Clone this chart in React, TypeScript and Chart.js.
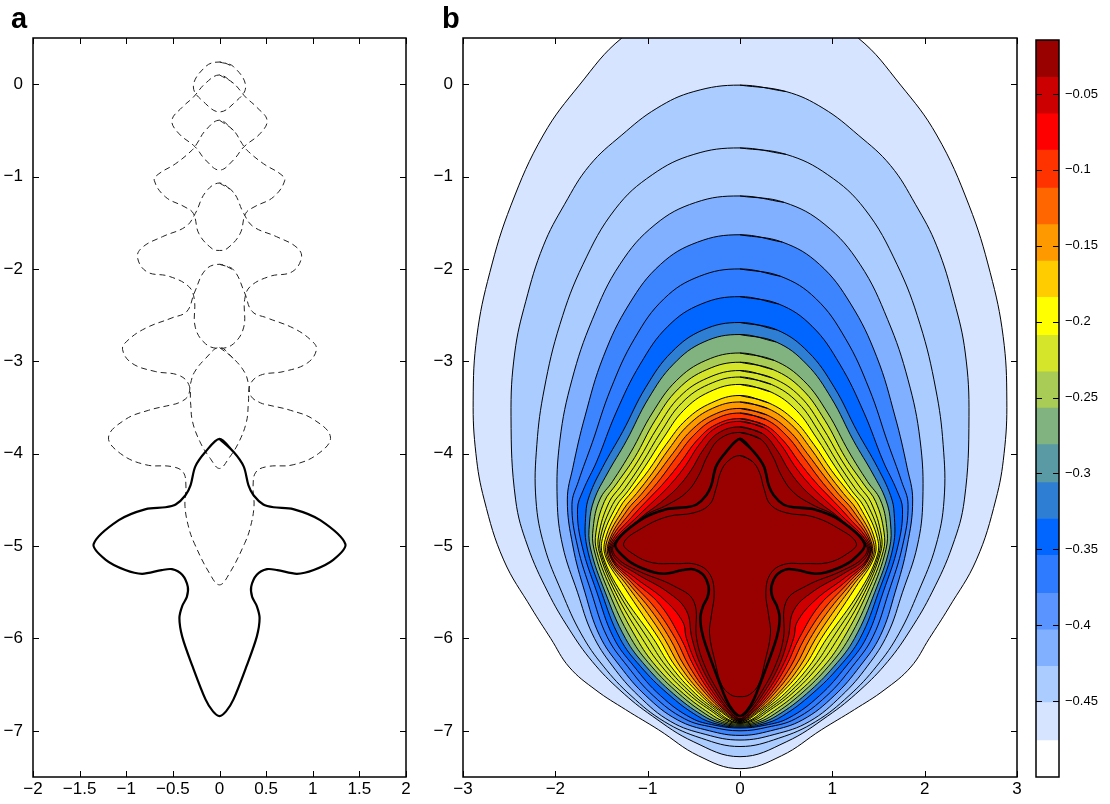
import React, { useEffect, useRef } from "react";
import { Chart, registerables } from "chart.js";

Chart.register(...registerables);

type Pt = [number, number];

const FONT = '"Liberation Sans", Arial, Helvetica, sans-serif';

// ---------------- axis ticks ----------------
const panelAXTicks = [-2, -1.5, -1, -0.5, 0, 0.5, 1, 1.5, 2];
const panelBXTicks = [-3, -2, -1, 0, 1, 2, 3];
const depthTicks = [-7, -6, -5, -4, -3, -2, -1, 0];
const colorbarTicks = [-0.45, -0.4, -0.35, -0.3, -0.25, -0.2, -0.15, -0.1, -0.05];

// ---------------- panel a : outlines (right half, top -> bottom, mirrored about x = 0) ----------------
const crossHalf: Pt[] = [[0,-3.84],[0.15,-3.98],[0.26,-4.14],[0.31,-4.34],[0.365,-4.45],[0.47,-4.55],[0.58,-4.58],[0.79,-4.6],[1.08,-4.72],[1.35,-4.98],[1.22,-5.15],[1.01,-5.26],[0.83,-5.3],[0.62,-5.26],[0.51,-5.25],[0.4,-5.31],[0.34,-5.44],[0.35,-5.55],[0.4,-5.65],[0.43,-5.78],[0.4,-5.98],[0.29,-6.3],[0.15,-6.66],[0.07,-6.79],[0,-6.84]];
const shapeA0: Pt[] = [[0,0.24],[0.15,0.19],[0.28,-0.03],[0.15,-0.21],[0,-0.3]];
const shapeA: Pt[] = [[0,0.1],[0.15,0.01],[0.28,-0.14],[0.4,-0.25],[0.51,-0.39],[0.44,-0.53],[0.26,-0.68],[0.15,-0.82],[0,-0.93]];
const shapeB: Pt[] = [[0,-0.39],[0.15,-0.5],[0.24,-0.64],[0.29,-0.71],[0.47,-0.86],[0.65,-0.97],[0.7,-1.04],[0.58,-1.22],[0.37,-1.33],[0.28,-1.4],[0.22,-1.62],[0.08,-1.78],[0,-1.8]];
const shapeC: Pt[] = [[0,-1.07],[0.15,-1.17],[0.26,-1.4],[0.36,-1.54],[0.61,-1.65],[0.82,-1.76],[0.88,-1.87],[0.78,-2.03],[0.54,-2.08],[0.33,-2.19],[0.27,-2.33],[0.26,-2.63],[0.15,-2.81],[0,-2.86]];
const shapeD: Pt[] = [[0,-1.95],[0.15,-2.01],[0.27,-2.26],[0.35,-2.46],[0.51,-2.53],[0.79,-2.64],[0.98,-2.77],[1.04,-2.87],[0.94,-3.02],[0.69,-3.11],[0.44,-3.15],[0.33,-3.25],[0.31,-3.45],[0.29,-3.65],[0.21,-3.87],[0.1,-4.05],[0,-4.16]];
const shapeE: Pt[] = [[0,-2.85],[0.15,-2.97],[0.27,-3.12],[0.31,-3.24],[0.34,-3.38],[0.44,-3.45],[0.51,-3.47],[0.76,-3.53],[1.01,-3.63],[1.19,-3.82],[1.06,-4.0],[0.79,-4.12],[0.51,-4.14],[0.39,-4.2],[0.36,-4.35],[0.37,-4.57],[0.33,-4.8],[0.27,-4.97],[0.11,-5.29],[0,-5.42]];
const dashedShapes = [shapeA0, shapeA, shapeB, shapeC, shapeD, shapeE];

// ---------------- panel b : contour lines (right half), outermost first ----------------
const c01: Pt[] = [[0,0.95],[0.7,0.84],[1.28,0.5],[1.74,-0.01],[2.13,-0.55],[2.48,-1.31],[2.71,-2.04],[2.85,-2.73],[2.89,-3.42],[2.86,-4.0],[2.77,-4.5],[2.56,-5.15],[2.26,-5.67],[2.05,-6.0],[1.85,-6.31],[1.56,-6.56],[1.24,-6.77],[0.88,-6.99],[0.45,-7.27],[0,-7.41]];
const c02: Pt[] = [[0,-0.01],[0.5,-0.08],[0.9,-0.26],[1.28,-0.55],[1.63,-0.88],[1.9,-1.3],[2.13,-1.75],[2.32,-2.35],[2.44,-2.91],[2.48,-3.6],[2.43,-4.5],[2.3,-5.0],[2.08,-5.5],[1.85,-5.9],[1.6,-6.25],[1.3,-6.56],[0.95,-6.84],[0.5,-7.12],[0,-7.28]];
const c03: Pt[] = [[0,-0.69],[0.5,-0.76],[0.95,-0.98],[1.35,-1.35],[1.7,-1.95],[1.95,-2.6],[2.12,-3.3],[2.2,-3.9],[2.21,-4.5],[2.12,-5.0],[1.93,-5.5],[1.72,-5.95],[1.48,-6.3],[1.18,-6.62],[0.82,-6.9],[0.42,-7.08],[0,-7.17]];
const c04: Pt[] = [[0,-1.21],[0.48,-1.28],[0.92,-1.52],[1.3,-1.95],[1.6,-2.55],[1.82,-3.2],[1.95,-3.85],[1.98,-4.5],[1.92,-5.0],[1.76,-5.5],[1.6,-5.95],[1.38,-6.3],[1.1,-6.62],[0.75,-6.9],[0.37,-7.04],[0,-7.1]];
const c05: Pt[] = [[0,-1.63],[0.46,-1.71],[0.86,-1.95],[1.2,-2.38],[1.48,-2.95],[1.68,-3.6],[1.81,-4.15],[1.87,-4.5],[1.81,-5.0],[1.68,-5.5],[1.52,-5.97],[1.3,-6.3],[1.02,-6.62],[0.68,-6.88],[0.33,-7.0],[0,-7.05]];
const c06: Pt[] = [[0,-2.0],[0.44,-2.08],[0.82,-2.32],[1.14,-2.75],[1.4,-3.3],[1.6,-3.88],[1.75,-4.3],[1.82,-4.55],[1.76,-5.0],[1.61,-5.5],[1.44,-5.98],[1.22,-6.3],[0.94,-6.62],[0.6,-6.87],[0.3,-6.96],[0,-7.0]];
const c07: Pt[] = [[0,-2.3],[0.42,-2.38],[0.78,-2.62],[1.08,-3.03],[1.34,-3.55],[1.55,-4.08],[1.7,-4.4],[1.76,-4.6],[1.71,-5.0],[1.55,-5.5],[1.37,-5.99],[1.15,-6.3],[0.86,-6.62],[0.53,-6.86],[0.27,-6.94],[0,-6.97]];
const c08: Pt[] = [[0,-2.58],[0.4,-2.66],[0.74,-2.9],[1.02,-3.28],[1.27,-3.76],[1.49,-4.15],[1.63,-4.45],[1.67,-4.65],[1.66,-5.0],[1.5,-5.5],[1.3,-6.0],[1.08,-6.3],[0.78,-6.6],[0.46,-6.84],[0.24,-6.93],[0,-6.96]];
const c09: Pt[] = [[0,-2.71],[0.39,-2.79],[0.72,-3.03],[0.99,-3.4],[1.23,-3.86],[1.44,-4.22],[1.58,-4.5],[1.63,-4.75],[1.62,-5.02],[1.46,-5.5],[1.24,-6.0],[1.02,-6.3],[0.72,-6.6],[0.41,-6.83],[0.21,-6.92],[0,-6.95]];
const c10: Pt[] = [[0,-2.91],[0.37,-2.99],[0.69,-3.21],[0.95,-3.56],[1.18,-3.98],[1.38,-4.3],[1.52,-4.5],[1.59,-4.8],[1.58,-5.04],[1.42,-5.5],[1.18,-6.0],[0.96,-6.3],[0.66,-6.6],[0.37,-6.82],[0.19,-6.91],[0,-6.94]];
const c11: Pt[] = [[0,-3.01],[0.36,-3.09],[0.67,-3.3],[0.92,-3.64],[1.14,-4.04],[1.34,-4.33],[1.47,-4.52],[1.56,-4.85],[1.55,-5.06],[1.38,-5.5],[1.12,-6.0],[0.91,-6.3],[0.61,-6.6],[0.33,-6.81],[0.17,-6.9],[0,-6.93]];
const c12: Pt[] = [[0,-3.1],[0.35,-3.18],[0.65,-3.38],[0.89,-3.71],[1.1,-4.07],[1.29,-4.35],[1.42,-4.53],[1.53,-4.88],[1.52,-5.08],[1.35,-5.5],[1.06,-6.0],[0.85,-6.3],[0.56,-6.6],[0.29,-6.8],[0.15,-6.89],[0,-6.92]];
const c13: Pt[] = [[0,-3.17],[0.34,-3.25],[0.63,-3.45],[0.86,-3.77],[1.06,-4.1],[1.25,-4.38],[1.38,-4.55],[1.51,-4.9],[1.5,-5.1],[1.32,-5.5],[1.0,-6.0],[0.8,-6.3],[0.52,-6.6],[0.26,-6.8],[0.13,-6.885],[0,-6.915]];
const c14: Pt[] = [[0,-3.25],[0.33,-3.33],[0.61,-3.53],[0.83,-3.83],[1.03,-4.14],[1.21,-4.4],[1.34,-4.57],[1.49,-4.92],[1.48,-5.12],[1.29,-5.5],[0.94,-6.0],[0.75,-6.3],[0.48,-6.6],[0.23,-6.8],[0.12,-6.88],[0,-6.91]];
const c15: Pt[] = [[0,-3.37],[0.31,-3.45],[0.58,-3.63],[0.8,-3.9],[0.99,-4.18],[1.17,-4.41],[1.3,-4.58],[1.46,-4.93],[1.45,-5.13],[1.25,-5.45],[1.05,-5.75],[0.88,-6.0],[0.7,-6.3],[0.44,-6.6],[0.2,-6.8],[0,-6.905]];
const c16: Pt[] = [[0,-3.44],[0.3,-3.51],[0.56,-3.69],[0.77,-3.95],[0.95,-4.21],[1.12,-4.43],[1.26,-4.6],[1.44,-4.94],[1.43,-5.14],[1.22,-5.43],[1.0,-5.73],[0.82,-6.0],[0.65,-6.3],[0.41,-6.6],[0.18,-6.8],[0,-6.9]];
const c17: Pt[] = [[0,-3.51],[0.29,-3.58],[0.53,-3.75],[0.73,-4.0],[0.91,-4.24],[1.07,-4.44],[1.22,-4.61],[1.42,-4.95],[1.41,-5.15],[1.2,-5.41],[0.96,-5.7],[0.76,-6.0],[0.6,-6.3],[0.37,-6.6],[0.16,-6.8],[0,-6.895]];
const c18: Pt[] = [[0,-3.56],[0.28,-3.63],[0.5,-3.8],[0.69,-4.04],[0.86,-4.27],[1.02,-4.46],[1.18,-4.63],[1.41,-4.96],[1.39,-5.15],[1.18,-5.39],[0.92,-5.67],[0.7,-6.0],[0.55,-6.3],[0.34,-6.6],[0.14,-6.8],[0,-6.89]];
const c19: Pt[] = [[0,-3.62],[0.27,-3.69],[0.47,-3.86],[0.64,-4.09],[0.81,-4.3],[0.97,-4.47],[1.14,-4.65],[1.4,-4.97],[1.38,-5.15],[1.16,-5.37],[0.87,-5.63],[0.64,-6.0],[0.5,-6.3],[0.31,-6.6],[0.13,-6.8],[0,-6.885]];
const c20: Pt[] = [[0,-3.65],[0.26,-3.72],[0.44,-3.9],[0.59,-4.13],[0.75,-4.33],[0.92,-4.5],[1.1,-4.67],[1.39,-4.98],[1.37,-5.15],[1.14,-5.34],[0.82,-5.58],[0.62,-5.82],[0.58,-6.0],[0.46,-6.3],[0.28,-6.6],[0.11,-6.8],[0,-6.88]];
const c21: Pt[] = [[0,-3.71],[0.24,-3.78],[0.4,-3.96],[0.53,-4.18],[0.68,-4.37],[0.86,-4.53],[1.07,-4.69],[1.38,-4.99],[1.35,-5.14],[1.12,-5.3],[0.78,-5.5],[0.58,-5.7],[0.52,-6.0],[0.42,-6.3],[0.25,-6.6],[0.1,-6.8],[0,-6.875]];
const c22: Pt[] = [[0,-3.77],[0.22,-3.84],[0.35,-4.02],[0.45,-4.24],[0.58,-4.42],[0.78,-4.55],[1.04,-4.68],[1.37,-5.0],[1.33,-5.13],[1.1,-5.27],[0.72,-5.43],[0.5,-5.6],[0.47,-6.0],[0.38,-6.3],[0.22,-6.6],[0.08,-6.8],[0,-6.87]];
const innerLevel: Pt[] = [[0,-4.02],[0.13,-4.08],[0.21,-4.2],[0.26,-4.38],[0.33,-4.55],[0.5,-4.64],[0.78,-4.68],[1.05,-4.8],[1.26,-4.97],[1.15,-5.09],[0.95,-5.18],[0.7,-5.19],[0.47,-5.2],[0.33,-5.3],[0.28,-5.5],[0.31,-5.75],[0.33,-5.95],[0.27,-6.25],[0.2,-6.5],[0.1,-6.61],[0,-6.63]];
const contourLines = [c01,c02,c03,c04,c05,c06,c07,c08,c09,c10,c11,c12,c13,c14,c15,c16,c17,c18,c19,c20,c21,c22];
const contourColors = ["#d6e4ff","#aaccff","#aaccff","#80b0ff","#3d84ff","#2f7bff","#0066ff","#2e7fd3","#80b380","#a8cc55","#d5e62a","#d5e62a","#d5e62a","#ffff00","#ffcc00","#ff9900","#ff6600","#ff3300","#ff0000","#cc0000","#990000","#990000"];
const crossColor = "#990000";

// ---------------- colorbar ----------------
const colorbarEdges = [-0.5,-0.476,-0.451,-0.427,-0.403,-0.379,-0.354,-0.33,-0.306,-0.281,-0.257,-0.233,-0.209,-0.184,-0.16,-0.136,-0.112,-0.087,-0.063,-0.039,-0.0144];
const colorbarColors = ["#ffffff","#d6e4ff","#aaccff","#80b0ff","#5994ff","#2f7bff","#0066ff","#2e7fd3","#5a9aa5","#80b380","#a8cc55","#d5e62a","#ffff00","#ffcc00","#ff9900","#ff6600","#ff3300","#ff0000","#cc0000","#990000"];

// ---------------- helpers ----------------
const loop = (half: Pt[]) => {
  const right = half.map(([x, y]) => ({ x, y }));
  const left = half.slice(1, -1).reverse().map(([x, y]) => ({ x: -x, y }));
  return [...right, ...left, { x: half[0][0], y: half[0][1] }, { x: half[1][0], y: half[1][1] }];
};

const fmt = (v: number) => (v < 0 ? "\u2212" : "") + String(Math.abs(Math.round(v * 1000) / 1000));

const framePlugin = {
  id: "frame",
  afterDatasetsDraw(chart: any, _args: any, opts: any) {
    const { ctx, chartArea: ca } = chart;
    const len = opts.len ?? 6;
    ctx.save();
    ctx.strokeStyle = "#000";
    ctx.lineWidth = 1;
    ctx.beginPath();
    const xs = chart.scales.x;
    if (opts.xTicks && xs) {
      for (const t of xs.ticks) {
        const p = Math.round(xs.getPixelForValue(t.value)) + 0.5;
        ctx.moveTo(p, ca.bottom);
        ctx.lineTo(p, ca.bottom - len);
        ctx.moveTo(p, ca.top);
        ctx.lineTo(p, ca.top + len);
      }
    }
    const ys = chart.scales.y;
    for (const t of ys.ticks) {
      const p = Math.round(ys.getPixelForValue(t.value)) + 0.5;
      ctx.moveTo(ca.left, p);
      ctx.lineTo(ca.left + len, p);
      ctx.moveTo(ca.right, p);
      ctx.lineTo(ca.right - len, p);
    }
    ctx.stroke();
    ctx.lineWidth = opts.frameWidth ?? 1.5;
    ctx.strokeRect(ca.left, ca.top, ca.right - ca.left, ca.bottom - ca.top);
    ctx.restore();
  },
};

const linScale = (min: number, max: number, vals: number[], size: number, pad: number, fit: (s: any) => void, position?: string) => ({
  type: "linear",
  position,
  min,
  max,
  grid: { display: false, drawTicks: false },
  border: { display: false },
  afterBuildTicks: (s: any) => {
    s.ticks = vals.map((v) => ({ value: v }));
  },
  afterFit: fit,
  ticks: {
    color: "#000",
    font: { family: FONT, size },
    padding: pad,
    autoSkip: false,
    maxRotation: 0,
    callback: (v: number) => fmt(v),
  },
});

const lineDs = (half: Pt[], extra: any) => ({
  data: loop(half),
  showLine: true,
  pointRadius: 0,
  pointHoverRadius: 0,
  tension: 0.4,
  borderColor: "#000",
  borderWidth: 1,
  fill: false,
  ...extra,
});

const baseOpts = (padding: any) => ({
  responsive: false,
  animation: false,
  events: [],
  layout: { padding },
  elements: { line: { capBezierPoints: false } },
});

export default function App() {
  const aRef = useRef<HTMLCanvasElement>(null);
  const bRef = useRef<HTMLCanvasElement>(null);
  const cRef = useRef<HTMLCanvasElement>(null);

  useEffect(() => {
    const aDatasets: any[] = [
      lineDs(crossHalf, { borderWidth: 2.2, tension: 0.3 }),
      ...dashedShapes.map((s) => lineDs(s, { borderColor: "#222", borderDash: [6, 4], borderWidth: 1 })),
    ];
    const chartA = new Chart(aRef.current as HTMLCanvasElement, {
      type: "scatter",
      data: { datasets: aDatasets },
      options: {
        ...baseOpts({ left: 0, right: 14, top: 38, bottom: 0 }),
        plugins: { legend: { display: false }, tooltip: { enabled: false }, frame: { xTicks: true } },
        scales: {
          x: linScale(-2, 2, panelAXTicks, 17, 2, (s: any) => { s.height = 27; }),
          y: linScale(-7.5, 0.5, depthTicks, 17, 10, (s: any) => { s.width = 33; }),
        },
      } as any,
      plugins: [framePlugin],
    });

    const bDatasets: any[] = [
      lineDs(innerLevel, { borderWidth: 1 }),
      lineDs(crossHalf, { borderWidth: 2.6, tension: 0.3, fill: "shape", backgroundColor: crossColor }),
    ];
    for (let i = contourLines.length - 1; i >= 0; i--) {
      bDatasets.push(lineDs(contourLines[i], { fill: "shape", backgroundColor: contourColors[i], borderWidth: 1 }));
    }
    const chartB = new Chart(bRef.current as HTMLCanvasElement, {
      type: "scatter",
      data: { datasets: bDatasets },
      options: {
        ...baseOpts({ left: 0, right: 8, top: 38, bottom: 0 }),
        plugins: { legend: { display: false }, tooltip: { enabled: false }, frame: { xTicks: true } },
        scales: {
          x: linScale(-3, 3, panelBXTicks, 17, 2, (s: any) => { s.height = 27; }),
          y: linScale(-7.5, 0.5, depthTicks, 17, 10, (s: any) => { s.width = 43; }),
        },
      } as any,
      plugins: [framePlugin],
    });

    const chartC = new Chart(cRef.current as HTMLCanvasElement, {
      type: "bar",
      data: {
        labels: [""],
        datasets: colorbarColors.map((c, i) => ({
          data: [[colorbarEdges[i], colorbarEdges[i + 1]]],
          backgroundColor: c,
          borderWidth: 0,
          barPercentage: 1,
          categoryPercentage: 1,
          grouped: false,
        })),
      },
      options: {
        ...baseOpts({ left: 16, right: 0, top: 40, bottom: 27 }),
        plugins: { legend: { display: false }, tooltip: { enabled: false }, frame: { xTicks: false, len: 6 } },
        scales: {
          x: { display: false },
          y: linScale(-0.5, -0.0144, colorbarTicks, 13, 6, (s: any) => { s.width = 51; }, "right"),
        },
      } as any,
      plugins: [framePlugin],
    });

    return () => {
      chartA.destroy();
      chartB.destroy();
      chartC.destroy();
    };
  }, []);

  const label = (text: string, left: number) => (
    <div style={{ position: "absolute", left, top: 4, fontFamily: FONT, fontWeight: "bold", fontSize: 29, lineHeight: "29px", color: "#000" }}>{text}</div>
  );

  return (
    <div style={{ position: "absolute", left: 0, top: 0, width: 1110, height: 804, background: "#fff", overflow: "hidden" }}>
      <canvas ref={aRef} width={420} height={804} style={{ position: "absolute", left: 0, top: 0 }} />
      <canvas ref={bRef} width={605} height={804} style={{ position: "absolute", left: 420, top: 0 }} />
      <canvas ref={cRef} width={90} height={804} style={{ position: "absolute", left: 1020, top: 0 }} />
      {label("a", 11)}
      {label("b", 442)}
    </div>
  );
}
